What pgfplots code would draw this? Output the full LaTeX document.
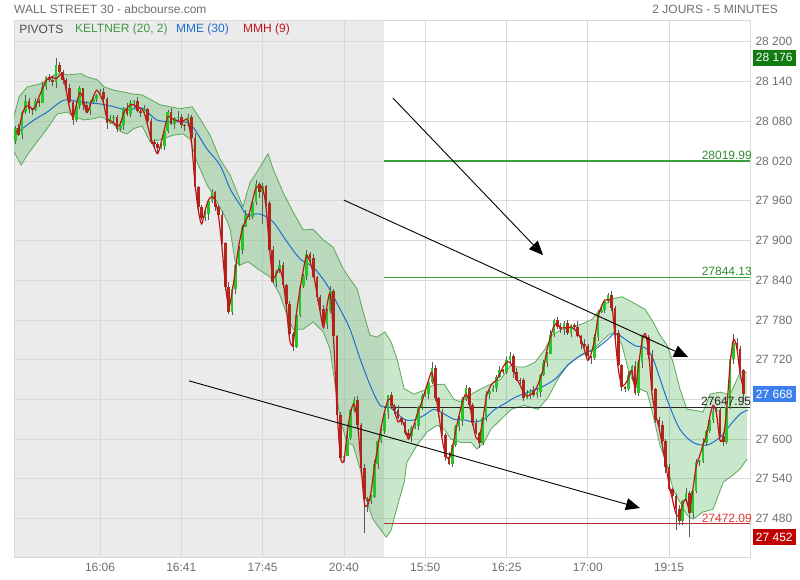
\documentclass[border=0pt]{standalone}
\usepackage{pgfplots}
\pgfplotsset{compat=1.18}
\usepackage{pgfplotstable}
\usepgfplotslibrary{fillbetween}
\usetikzlibrary{arrows.meta}
\usepackage{fontspec}
\setmainfont{Liberation Sans}
\definecolor{bggray}{HTML}{EBEBEB}
\definecolor{gridgray}{HTML}{D9D9D9}
\definecolor{txtgray}{HTML}{6E6E6E}
\definecolor{kgreen}{HTML}{4CAF50}
\definecolor{kline}{HTML}{5AA85A}
\definecolor{emablue}{HTML}{1F6FCF}
\definecolor{mmhred}{HTML}{C0141C}
\definecolor{cgreen}{HTML}{22C922}
\definecolor{cred}{HTML}{B0281C}
\definecolor{wick}{HTML}{5A5A5A}
\definecolor{pivgreen}{HTML}{2E8B2E}
\definecolor{pivline}{HTML}{3A9E3A}
\definecolor{pivred}{HTML}{E53935}
\definecolor{boxgreen}{HTML}{117A11}
\definecolor{boxblue}{HTML}{3D7FEF}
\definecolor{boxred}{HTML}{C00000}

\pgfplotstableread{
x o h l c
0 28050 28073 28046 28070
1 28070 28076 28058 28060
2 28060 28096 28053 28094
3 28094 28119 28091 28111
4 28111 28115 28093 28098
5 28098 28099 28089 28097
6 28097 28115 28095 28110
7 28110 28113 28102 28108
8 28108 28139 28107 28132
9 28132 28149 28128 28147
10 28147 28151 28139 28142
11 28142 28148 28134 28139
12 28139 28176 28130 28165
13 28165 28170 28153 28155
14 28155 28157 28137 28143
15 28143 28146 28127 28131
16 28131 28137 28107 28109
17 28109 28111 28075 28082
18 28082 28111 28079 28103
19 28103 28134 28098 28130
20 28130 28131 28097 28105
21 28105 28110 28094 28096
22 28096 28112 28090 28109
23 28109 28120 28108 28113
24 28113 28121 28109 28119
25 28119 28129 28116 28125
26 28125 28131 28109 28114
27 28114 28117 28069 28078
28 28078 28090 28076 28085
29 28085 28089 28079 28087
30 28087 28090 28064 28068
31 28068 28080 28066 28074
32 28074 28102 28067 28100
33 28100 28108 28088 28091
34 28091 28112 28086 28108
35 28108 28112 28100 28111
36 28111 28116 28094 28096
37 28096 28099 28086 28092
38 28092 28105 28091 28098
39 28098 28100 28077 28081
40 28081 28085 28045 28048
41 28048 28054 28040 28045
42 28045 28048 28031 28040
43 28040 28047 28038 28042
44 28042 28068 28036 28066
45 28066 28097 28062 28094
46 28094 28100 28074 28076
47 28076 28087 28069 28085
48 28085 28095 28082 28087
49 28087 28091 28070 28075
50 28075 28076 28066 28074
51 28074 28091 28072 28086
52 28086 28089 28049 28055
53 28055 28062 27980 27981
54 27981 27983 27946 27950
55 27950 27954 27931 27934
56 27934 27946 27929 27940
57 27940 27962 27931 27959
58 27959 27978 27957 27973
59 27973 27975 27945 27951
60 27951 27954 27935 27939
61 27939 27945 27894 27896
62 27896 27898 27823 27830
63 27830 27838 27789 27792
64 27792 27831 27787 27827
65 27827 27864 27819 27863
66 27863 27891 27861 27886
67 27886 27924 27880 27921
68 27921 27946 27920 27939
69 27939 27941 27931 27935
70 27935 27962 27932 27958
71 27958 27992 27953 27986
72 27986 27989 27964 27973
73 27973 27987 27925 27982
74 27982 27984 27951 27957
75 27957 27960 27882 27886
76 27886 27892 27835 27837
77 27837 27856 27830 27854
78 27854 27871 27851 27863
79 27863 27867 27828 27833
80 27833 27834 27796 27804
81 27804 27809 27757 27759
82 27759 27762 27733 27739
83 27739 27795 27738 27788
84 27788 27834 27784 27832
85 27832 27850 27829 27846
86 27846 27886 27841 27880
87 27880 27883 27865 27874
88 27874 27879 27843 27845
89 27845 27847 27808 27814
90 27814 27817 27793 27797
91 27797 27803 27772 27774
92 27774 27796 27767 27794
93 27794 27831 27791 27823
94 27823 27827 27751 27756
95 27756 27757 27628 27636
96 27636 27641 27569 27571
97 27571 27578 27565 27575
98 27575 27609 27574 27602
99 27602 27646 27598 27644
100 27644 27663 27641 27659
101 27659 27665 27617 27622
102 27622 27625 27548 27557
103 27557 27562 27458 27510
104 27510 27512 27490 27506
105 27506 27516 27502 27513
106 27513 27568 27511 27562
107 27562 27599 27555 27597
108 27597 27621 27594 27613
109 27613 27643 27608 27639
110 27639 27667 27631 27666
111 27666 27671 27648 27650
112 27650 27653 27638 27644
113 27644 27651 27631 27632
114 27632 27634 27622 27626
115 27626 27630 27606 27609
116 27609 27615 27600 27605
117 27605 27620 27596 27617
118 27617 27625 27615 27620
119 27620 27650 27614 27648
120 27648 27668 27644 27665
121 27665 27674 27663 27668
122 27668 27689 27661 27687
123 27687 27716 27684 27708
124 27708 27712 27657 27662
125 27662 27663 27633 27641
126 27641 27646 27604 27606
127 27606 27609 27567 27573
128 27573 27580 27561 27562
129 27562 27593 27558 27591
130 27591 27622 27588 27618
131 27618 27635 27613 27629
132 27629 27663 27620 27660
133 27660 27682 27658 27677
134 27677 27679 27645 27651
135 27651 27654 27620 27624
136 27624 27630 27607 27609
137 27609 27611 27587 27594
138 27594 27640 27591 27632
139 27632 27672 27627 27668
140 27668 27674 27660 27673
141 27673 27682 27671 27677
142 27677 27697 27671 27694
143 27694 27711 27693 27704
144 27704 27706 27698 27702
145 27702 27724 27699 27720
146 27720 27731 27715 27725
147 27725 27728 27693 27702
148 27702 27707 27688 27690
149 27690 27692 27683 27689
150 27689 27692 27658 27662
151 27662 27674 27660 27668
152 27668 27675 27661 27673
153 27673 27681 27664 27667
154 27667 27675 27662 27671
155 27671 27698 27663 27697
156 27697 27720 27695 27715
157 27715 27732 27709 27729
158 27729 27765 27728 27758
159 27758 27782 27754 27780
160 27780 27784 27766 27769
161 27769 27775 27761 27766
162 27766 27778 27757 27775
163 27775 27780 27758 27760
164 27760 27774 27754 27772
165 27772 27775 27766 27770
166 27770 27778 27754 27756
167 27756 27758 27736 27743
168 27743 27751 27737 27740
169 27740 27744 27720 27725
170 27725 27726 27714 27722
171 27722 27759 27720 27754
172 27754 27795 27748 27792
173 27792 27802 27791 27795
174 27795 27810 27791 27808
175 27808 27821 27805 27817
176 27817 27823 27793 27798
177 27798 27801 27751 27760
178 27760 27765 27710 27712
179 27712 27714 27672 27678
180 27678 27681 27671 27675
181 27675 27703 27673 27697
182 27697 27712 27690 27710
183 27710 27718 27667 27670
184 27670 27720 27665 27716
185 27716 27757 27708 27756
186 27756 27761 27752 27754
187 27754 27757 27721 27727
188 27727 27734 27674 27675
189 27675 27677 27625 27629
190 27629 27633 27618 27621
191 27621 27627 27592 27597
192 27597 27600 27549 27558
193 27558 27563 27522 27524
194 27524 27526 27508 27514
195 27514 27517 27463 27494
196 27494 27500 27470 27477
197 27477 27508 27470 27506
198 27506 27526 27503 27518
199 27518 27522 27452 27489
200 27489 27522 27481 27521
201 27521 27570 27519 27565
202 27565 27568 27559 27567
203 27567 27601 27564 27594
204 27594 27614 27590 27612
205 27612 27633 27609 27629
206 27629 27649 27624 27643
207 27643 27647 27634 27644
208 27644 27649 27603 27605
209 27605 27607 27590 27596
210 27596 27651 27592 27648
211 27648 27727 27646 27721
212 27721 27759 27714 27745
213 27745 27753 27733 27736
214 27736 27740 27700 27705
215 27705 27706 27660 27668
}\candletab

\pgfplotstableread{
x v
0 28064
1 28067
2 28090
3 28102
4 28103
5 28099
6 28103
7 28117
8 28129
9 28141
10 28146
11 28147
12 28144
13 28149
14 28150
15 28127
16 28100
17 28087
18 28105
19 28123
20 28114
21 28093
22 28103
23 28117
24 28127
25 28120
26 28108
27 28085
28 28081
29 28078
30 28073
31 28076
32 28093
33 28100
34 28105
35 28105
36 28100
37 28100
38 28093
39 28075
40 28055
41 28041
42 28031
43 28047
44 28068
45 28087
46 28085
47 28082
48 28081
49 28079
50 28082
51 28081
52 28049
53 27988
54 27946
55 27925
56 27945
57 27961
58 27966
59 27960
60 27936
61 27890
62 27834
63 27800
64 27822
65 27857
66 27893
67 27917
68 27930
69 27940
70 27960
71 27979
72 27982
73 27979
74 27951
75 27890
76 27845
77 27849
78 27857
79 27840
80 27800
81 27750
82 27744
83 27790
84 27825
85 27855
86 27877
87 27868
88 27849
89 27822
90 27792
91 27768
92 27801
93 27819
94 27747
95 27641
96 27573
97 27568
98 27611
99 27641
100 27653
101 27626
102 27565
103 27505
104 27500
105 27520
106 27558
107 27588
108 27618
109 27641
110 27659
111 27659
112 27641
113 27626
114 27630
115 27617
116 27600
117 27611
118 27627
119 27644
120 27656
121 27673
122 27689
123 27701
124 27671
125 27638
126 27600
127 27577
128 27570
129 27586
130 27612
131 27636
132 27656
133 27668
134 27656
135 27626
136 27602
137 27603
138 27629
139 27662
140 27677
141 27685
142 27689
143 27698
144 27709
145 27716
146 27716
147 27707
148 27692
149 27682
150 27671
151 27665
152 27667
153 27671
154 27679
155 27692
156 27709
157 27736
158 27754
159 27771
160 27774
161 27768
162 27768
163 27769
164 27769
165 27766
166 27760
167 27751
168 27735
169 27719
170 27729
171 27750
172 27783
173 27800
174 27810
175 27810
176 27807
177 27757
178 27706
179 27682
180 27683
181 27692
182 27704
183 27677
184 27712
185 27747
186 27759
187 27729
188 27668
189 27638
190 27618
191 27591
192 27562
193 27532
194 27509
195 27488
196 27484
197 27502
198 27509
199 27494
200 27523
201 27558
202 27574
203 27591
204 27606
205 27633
206 27651
207 27639
208 27599
209 27603
210 27644
211 27712
212 27750
213 27738
214 27698
215 27676
}\mmhtab

\pgfplotstableread{
x v
0 28061
5.5 28082
9.4 28094
14.4 28112
19.4 28109
25.3 28106
29.1 28102
33.0 28097
37.4 28100
41.8 28082
46.6 28079
51.6 28076
56.6 28038
60.4 28014
63.4 27978
66.3 27954
68.4 27939
72.2 27940
76.1 27928
80.2 27898
84.1 27872
87.9 27860
92.0 27833
95.9 27796
98.8 27766
101.8 27721
104.7 27682
107.7 27651
110.6 27648
114.8 27630
117.7 27629
120.7 27636
123.6 27645
126.6 27638
129.5 27630
132.5 27629
135.4 27626
138.4 27630
141.3 27644
144.3 27653
147.5 27663
151.4 27671
155.5 27679
159.4 27691
163.2 27712
167.3 27728
171.2 27736
175.0 27751
177.1 27760
180.0 27751
183.0 27741
185.9 27738
188.3 27721
192.4 27660
196.2 27615
200.1 27595
204.2 27591
208.1 27603
211.0 27621
214.0 27638
216.3 27644
}\ematab

\pgfplotstableread{
x v
-0.4 28087
1.1 28117
3.5 28132
7.6 28137
11.4 28150
13.5 28153
15.3 28150
19.4 28152
21.2 28147
24.1 28143
26.2 28132
29.1 28127
32.1 28124
35.0 28121
37.4 28120
42.7 28105
48.6 28099
52.2 28102
54.5 28084
57.5 28059
60.4 28023
63.4 27999
67.2 27951
69.3 27988
71.4 28004
74.6 28031
76.1 28008
79.0 27973
82.0 27943
85.0 27916
87.9 27917
90.9 27901
93.8 27890
96.8 27857
98.8 27842
100.9 27827
102.7 27792
104.7 27757
106.8 27754
109.1 27762
110.9 27747
112.7 27721
114.8 27676
117.7 27668
120.7 27674
123.6 27682
126.6 27683
129.5 27660
131.6 27656
134.6 27668
137.5 27676
140.4 27683
143.4 27691
146.4 27713
148.1 27709
150.5 27709
153.4 27716
156.4 27736
158.5 27757
161.4 27766
164.4 27769
167.3 27774
170.3 27781
173.2 27800
176.2 27812
179.1 27815
182.1 27807
185.9 27796
188.3 27777
190.3 27757
192.4 27742
194.2 27716
196.2 27676
198.3 27645
200.1 27644
203.0 27641
205.1 27668
208.1 27671
211.0 27667
214.0 27701
216.0 27701
}\upband

\pgfplotstableread{
x v
-0.4 28034
1.7 28014
3.5 28029
6.4 28049
9.4 28069
12.3 28091
15.3 28094
17.3 28087
20.3 28082
23.2 28084
25.3 28087
27.1 28082
29.1 28075
31.2 28064
33.0 28061
35.0 28069
37.4 28073
39.8 28049
42.7 28052
46.6 28059
49.5 28061
51.6 28053
53.6 28019
56.6 27984
59.6 27958
62.5 27930
63.4 27917
64.9 27868
66.4 27863
68.7 27868
71.6 27857
75.2 27845
78.1 27818
80.2 27787
82.0 27766
85.0 27766
87.9 27777
90.9 27762
92.9 27736
94.4 27682
95.9 27630
97.9 27595
99.7 27591
101.8 27555
103.8 27505
105.6 27479
107.7 27464
109.5 27452
110.9 27462
112.7 27497
114.8 27535
115.6 27565
118.6 27591
121.6 27611
124.5 27621
126.6 27615
128.6 27600
131.6 27595
134.6 27595
136.3 27585
138.4 27595
140.4 27615
143.4 27630
146.4 27645
150.2 27651
154.3 27645
157.3 27663
160.2 27691
163.2 27713
166.2 27724
169.1 27731
172.0 27742
175.0 27757
177.1 27762
179.1 27742
180.9 27706
183.0 27679
186.5 27671
188.3 27636
190.3 27591
192.4 27561
194.2 27524
196.2 27505
198.3 27485
200.1 27479
203.0 27490
206.0 27494
209.0 27535
211.9 27546
214.0 27555
216.0 27570
}\lowband

\begin{document}
\begin{tikzpicture}
\path (0pt,0pt) rectangle (800pt,580pt);
\node[anchor=west, inner sep=0pt, text=txtgray, font=\fontsize{12}{14}\selectfont] at (14pt,571pt) {WALL STREET 30 - abcbourse.com};
\node[anchor=east, inner sep=0pt, text=txtgray, font=\fontsize{12}{14}\selectfont] at (778pt,571pt) {2 JOURS - 5 MINUTES};
\begin{axis}[
  at={(14pt,23pt)}, anchor=south west,
  scale only axis, width=736pt, height=537pt,
  xmin=-0.4, xmax=216.9, ymin=27422, ymax=28233,
  scaled y ticks=false, scaled x ticks=false,
  set layers, clip mode=individual,
  axis line style={draw=gridgray, line width=0.8pt},
  grid=major, major grid style={draw=gridgray, line width=0.8pt},
  xtick={25,49,73,97,121,145,169,193},
  xticklabels={16:06,16:41,17:45,20:40,15:50,16:25,17:00,19:15},
  ytick={27480,27540,...,28200},
  yticklabels={27 480,27 540,27 600,{},27 720,27 780,27 840,27 900,27 960,28 020,28 080,28 140,28 200},
  yticklabel pos=right,
  major tick length=0pt,
  tick label style={font=\fontsize{12}{14}\selectfont, text=txtgray},
  yticklabel style={anchor=west, xshift=2pt},
  xticklabel style={anchor=north, yshift=-3pt},
]
\begin{pgfonlayer}{axis background}
\fill[bggray] (axis cs:-0.4,27422) rectangle (axis cs:108.8,28233);
\end{pgfonlayer}

% Keltner band
\addplot[name path=up, draw=kline, line width=0.8pt, forget plot] table[x=x,y=v] {\upband};
\addplot[name path=lo, draw=kline, line width=0.8pt, forget plot] table[x=x,y=v] {\lowband};
\addplot[kgreen, fill opacity=0.3, draw=none, forget plot] fill between[of=up and lo];

% pivots
\addplot[pivline, line width=1.8pt, forget plot] coordinates {(108.8,28019.99) (216.9,28019.99)};
\addplot[pivline, line width=1pt, forget plot] coordinates {(108.8,27844.13) (216.9,27844.13)};
\addplot[black!85, line width=0.8pt, forget plot] coordinates {(108.8,27647.95) (216.9,27647.95)};
\addplot[pivred!80!black, line width=0.8pt, forget plot] coordinates {(108.8,27472.09) (216.9,27472.09)};

% EMA 30
\addplot[emablue, line width=1pt, smooth, forget plot] table[x=x,y=v] {\ematab};

% wicks
\addplot[only marks, mark=*, mark size=0pt, mark options={draw=none, fill=none}, forget plot,
  error bars/.cd, y dir=plus, y explicit, error mark=none,
  error bar style={line width=0.5pt, draw=wick, solid}]
  table[x=x, y=l, y error plus expr=\thisrow{h}-\thisrow{l}] {\candletab};
% up bodies
\addplot[only marks, mark=*, mark size=0pt, mark options={draw=none, fill=none}, forget plot,
  restrict expr to domain={\thisrow{c}-\thisrow{o}}{0:2000},
  error bars/.cd, y dir=plus, y explicit, error mark=none,
  error bar style={line width=2.6pt, draw=cgreen, solid}]
  table[x=x, y=o, y error plus expr=\thisrow{c}-\thisrow{o}] {\candletab};
% down bodies
\addplot[only marks, mark=*, mark size=0pt, mark options={draw=none, fill=none}, forget plot,
  restrict expr to domain={\thisrow{o}-\thisrow{c}}{0.5:2000},
  error bars/.cd, y dir=plus, y explicit, error mark=none,
  error bar style={line width=2.6pt, draw=cred, solid}]
  table[x=x, y=c, y error plus expr=\thisrow{o}-\thisrow{c}] {\candletab};

% MMH 9
\addplot[mmhred, line width=1.2pt, smooth, forget plot] table[x=x,y=v] {\mmhtab};

% drawn trend arrows
\addplot[black, line width=0.9pt, -{Triangle[length=14pt,width=12pt]}, forget plot] coordinates {(111.5,28115) (155.8,27878)};
\addplot[black, line width=0.9pt, -{Triangle[length=14pt,width=12pt]}, forget plot] coordinates {(97.0,27961) (198.6,27724)};
\addplot[black, line width=0.9pt, -{Triangle[length=14pt,width=12pt]}, forget plot] coordinates {(51.3,27688) (184.4,27496)};

% pivot labels
\node[anchor=south east, inner sep=0pt, yshift=1.5pt, text=pivgreen, font=\fontsize{12}{14}\selectfont] at (axis cs:217.5,28019.99) {28019.99};
\node[anchor=south east, inner sep=0pt, yshift=1.5pt, text=pivgreen, font=\fontsize{12}{14}\selectfont] at (axis cs:217.5,27844.13) {27844.13};
\node[anchor=south east, inner sep=0pt, yshift=1.5pt, text=black!85, font=\fontsize{12}{14}\selectfont] at (axis cs:217.3,27647.95) {27647.95};
\node[anchor=south east, inner sep=0pt, yshift=1.5pt, text=pivred, font=\fontsize{12}{14}\selectfont] at (axis cs:217.5,27472.09) {27472.09};

% legend
\node[anchor=west, inner sep=0pt, text=black!70, font=\fontsize{12}{14}\selectfont] at (axis cs:1.1,28219) {PIVOTS};
\node[anchor=west, inner sep=0pt, text=pivgreen!90!white, font=\fontsize{12}{14}\selectfont] at (axis cs:17.6,28219) {KELTNER (20, 2)};
\node[anchor=west, inner sep=0pt, text=emablue, font=\fontsize{12}{14}\selectfont] at (axis cs:47.4,28219) {MME (30)};
\node[anchor=west, inner sep=0pt, text=mmhred, font=\fontsize{12}{14}\selectfont] at (axis cs:67.2,28219) {MMH (9)};

% price boxes
\node[anchor=west, fill=boxgreen, text=white, inner xsep=3pt, inner ysep=0pt, minimum height=16pt, font=\fontsize{12}{14}\selectfont] at (axis cs:217.7,28176) {28 176};
\node[anchor=west, fill=boxblue, text=white, inner xsep=3pt, inner ysep=0pt, minimum height=16pt, font=\fontsize{12}{14}\selectfont] at (axis cs:217.7,27668) {27 668};
\node[anchor=west, fill=boxred, text=white, inner xsep=3pt, inner ysep=0pt, minimum height=16pt, font=\fontsize{12}{14}\selectfont] at (axis cs:217.7,27452) {27 452};
\end{axis}
\end{tikzpicture}
\end{document}
